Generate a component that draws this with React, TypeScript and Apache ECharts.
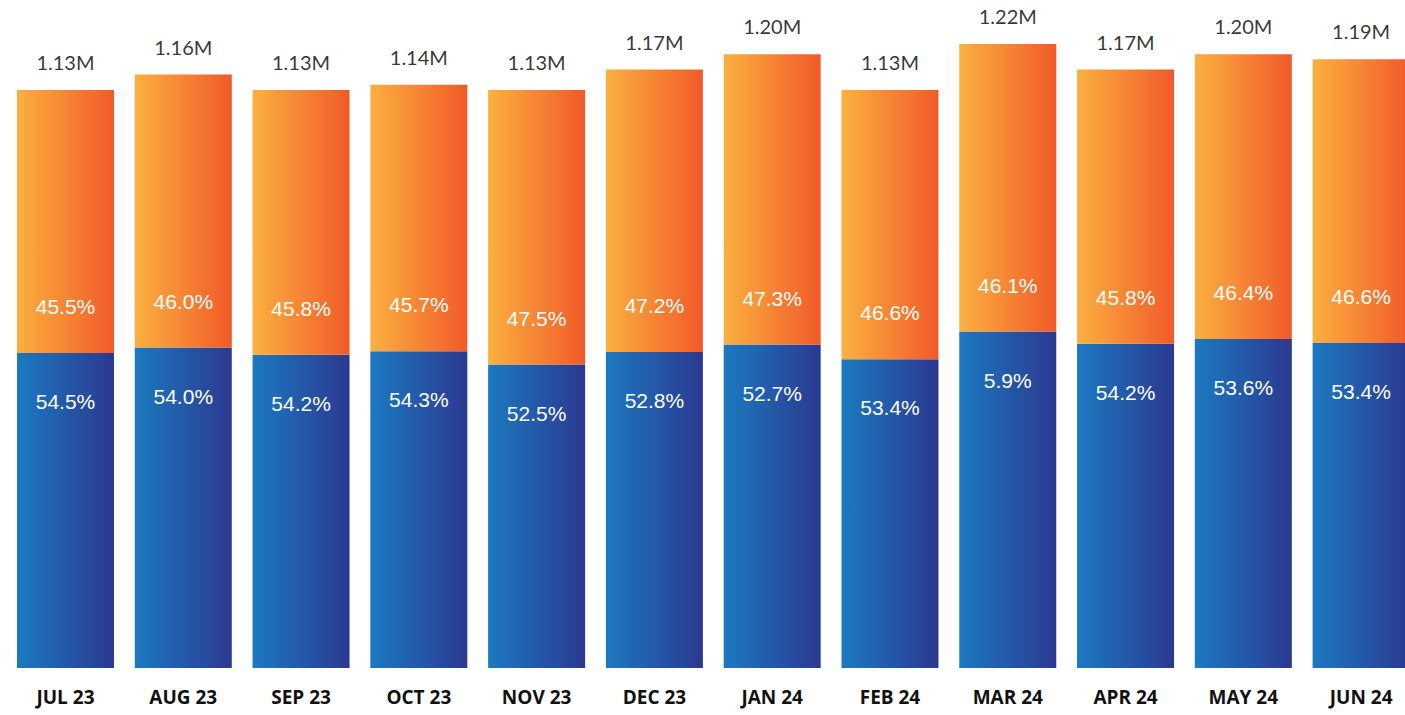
import React, { useEffect, useRef } from "react";
import * as echarts from "echarts";

const categories = ["JUL 23", "AUG 23", "SEP 23", "OCT 23", "NOV 23", "DEC 23", "JAN 24", "FEB 24", "MAR 24", "APR 24", "MAY 24", "JUN 24"];
const totals = [1.13, 1.16, 1.13, 1.14, 1.13, 1.17, 1.2, 1.13, 1.22, 1.17, 1.2, 1.19];
const bluePct = [54.5, 54.0, 54.2, 54.3, 52.5, 52.8, 52.7, 53.4, 53.9, 54.2, 53.6, 53.4];
const orangePct = [45.5, 46.0, 45.8, 45.7, 47.5, 47.2, 47.3, 46.6, 46.1, 45.8, 46.4, 46.6];
const blueLabels = ["54.5%", "54.0%", "54.2%", "54.3%", "52.5%", "52.8%", "52.7%", "53.4%", "5.9%", "54.2%", "53.6%", "53.4%"];
const orangeLabels = ["45.5%", "46.0%", "45.8%", "45.7%", "47.5%", "47.2%", "47.3%", "46.6%", "46.1%", "45.8%", "46.4%", "46.6%"];
const totalLabels = ["1.13M", "1.16M", "1.13M", "1.14M", "1.13M", "1.17M", "1.20M", "1.13M", "1.22M", "1.17M", "1.20M", "1.19M"];

export default function App() {
  const ref = useRef<HTMLDivElement>(null);
  useEffect(() => {
    if (!ref.current) return;
    const chart = echarts.init(ref.current, null, { renderer: "svg" });
    const blueGrad = new echarts.graphic.LinearGradient(0, 0, 1, 0, [
      { offset: 0, color: "#1c79c0" },
      { offset: 1, color: "#2b3990" },
    ]);
    const orangeGrad = new echarts.graphic.LinearGradient(0, 0, 1, 0, [
      { offset: 0, color: "#fbb040" },
      { offset: 1, color: "#f15a29" },
    ]);
    const blueVals = totals.map((t, i) => +(t * bluePct[i] / 100).toFixed(4));
    const orangeVals = totals.map((t, i) => +(t - blueVals[i]).toFixed(4));
    chart.setOption({
      animation: false,
      grid: { left: 6.6, right: 0, top: 3, bottom: 47, containLabel: false },
      xAxis: {
        type: "category",
        data: categories,
        axisLine: { show: false },
        axisTick: { show: false },
        axisLabel: {
          margin: 19,
          color: "#111",
          fontFamily: "Open Sans",
          fontWeight: "bold",
          fontSize: 19,
          interval: 0,
        },
      },
      yAxis: { type: "value", min: 0, max: 1.3, show: false, splitLine: { show: false } },
      series: [
        {
          type: "bar",
          stack: "s",
          barWidth: 97,
          data: blueVals,
          itemStyle: { color: blueGrad },
          label: {
            show: true,
            position: "insideTop",
            distance: 38,
            color: "#fff",
            fontSize: 21,
            fontFamily: "Liberation Sans",
            formatter: (p: any) => blueLabels[p.dataIndex],
          },
        },
        {
          type: "bar",
          stack: "s",
          barWidth: 97,
          data: orangeVals,
          itemStyle: { color: orangeGrad },
          label: {
            show: true,
            position: "insideBottom",
            distance: 36,
            color: "#fff",
            fontSize: 21,
            fontFamily: "Liberation Sans",
            formatter: (p: any) => orangeLabels[p.dataIndex],
          },
        },
        {
          type: "scatter",
          data: totals,
          symbolSize: 0,
          silent: true,
          label: {
            show: true,
            position: "top",
            distance: 18,
            color: "#000",
            fontSize: 20,
            fontFamily: "Lato",
            formatter: (p: any) => totalLabels[p.dataIndex],
          },
        },
      ],
    });
    return () => chart.dispose();
  }, []);
  return (
    <div style={{ position: "absolute", left: 0, top: 0, width: 1405, height: 715, overflow: "hidden", background: "#fff" }}>
      <div ref={ref} style={{ width: 1420, height: 715 }} />
    </div>
  );
}
